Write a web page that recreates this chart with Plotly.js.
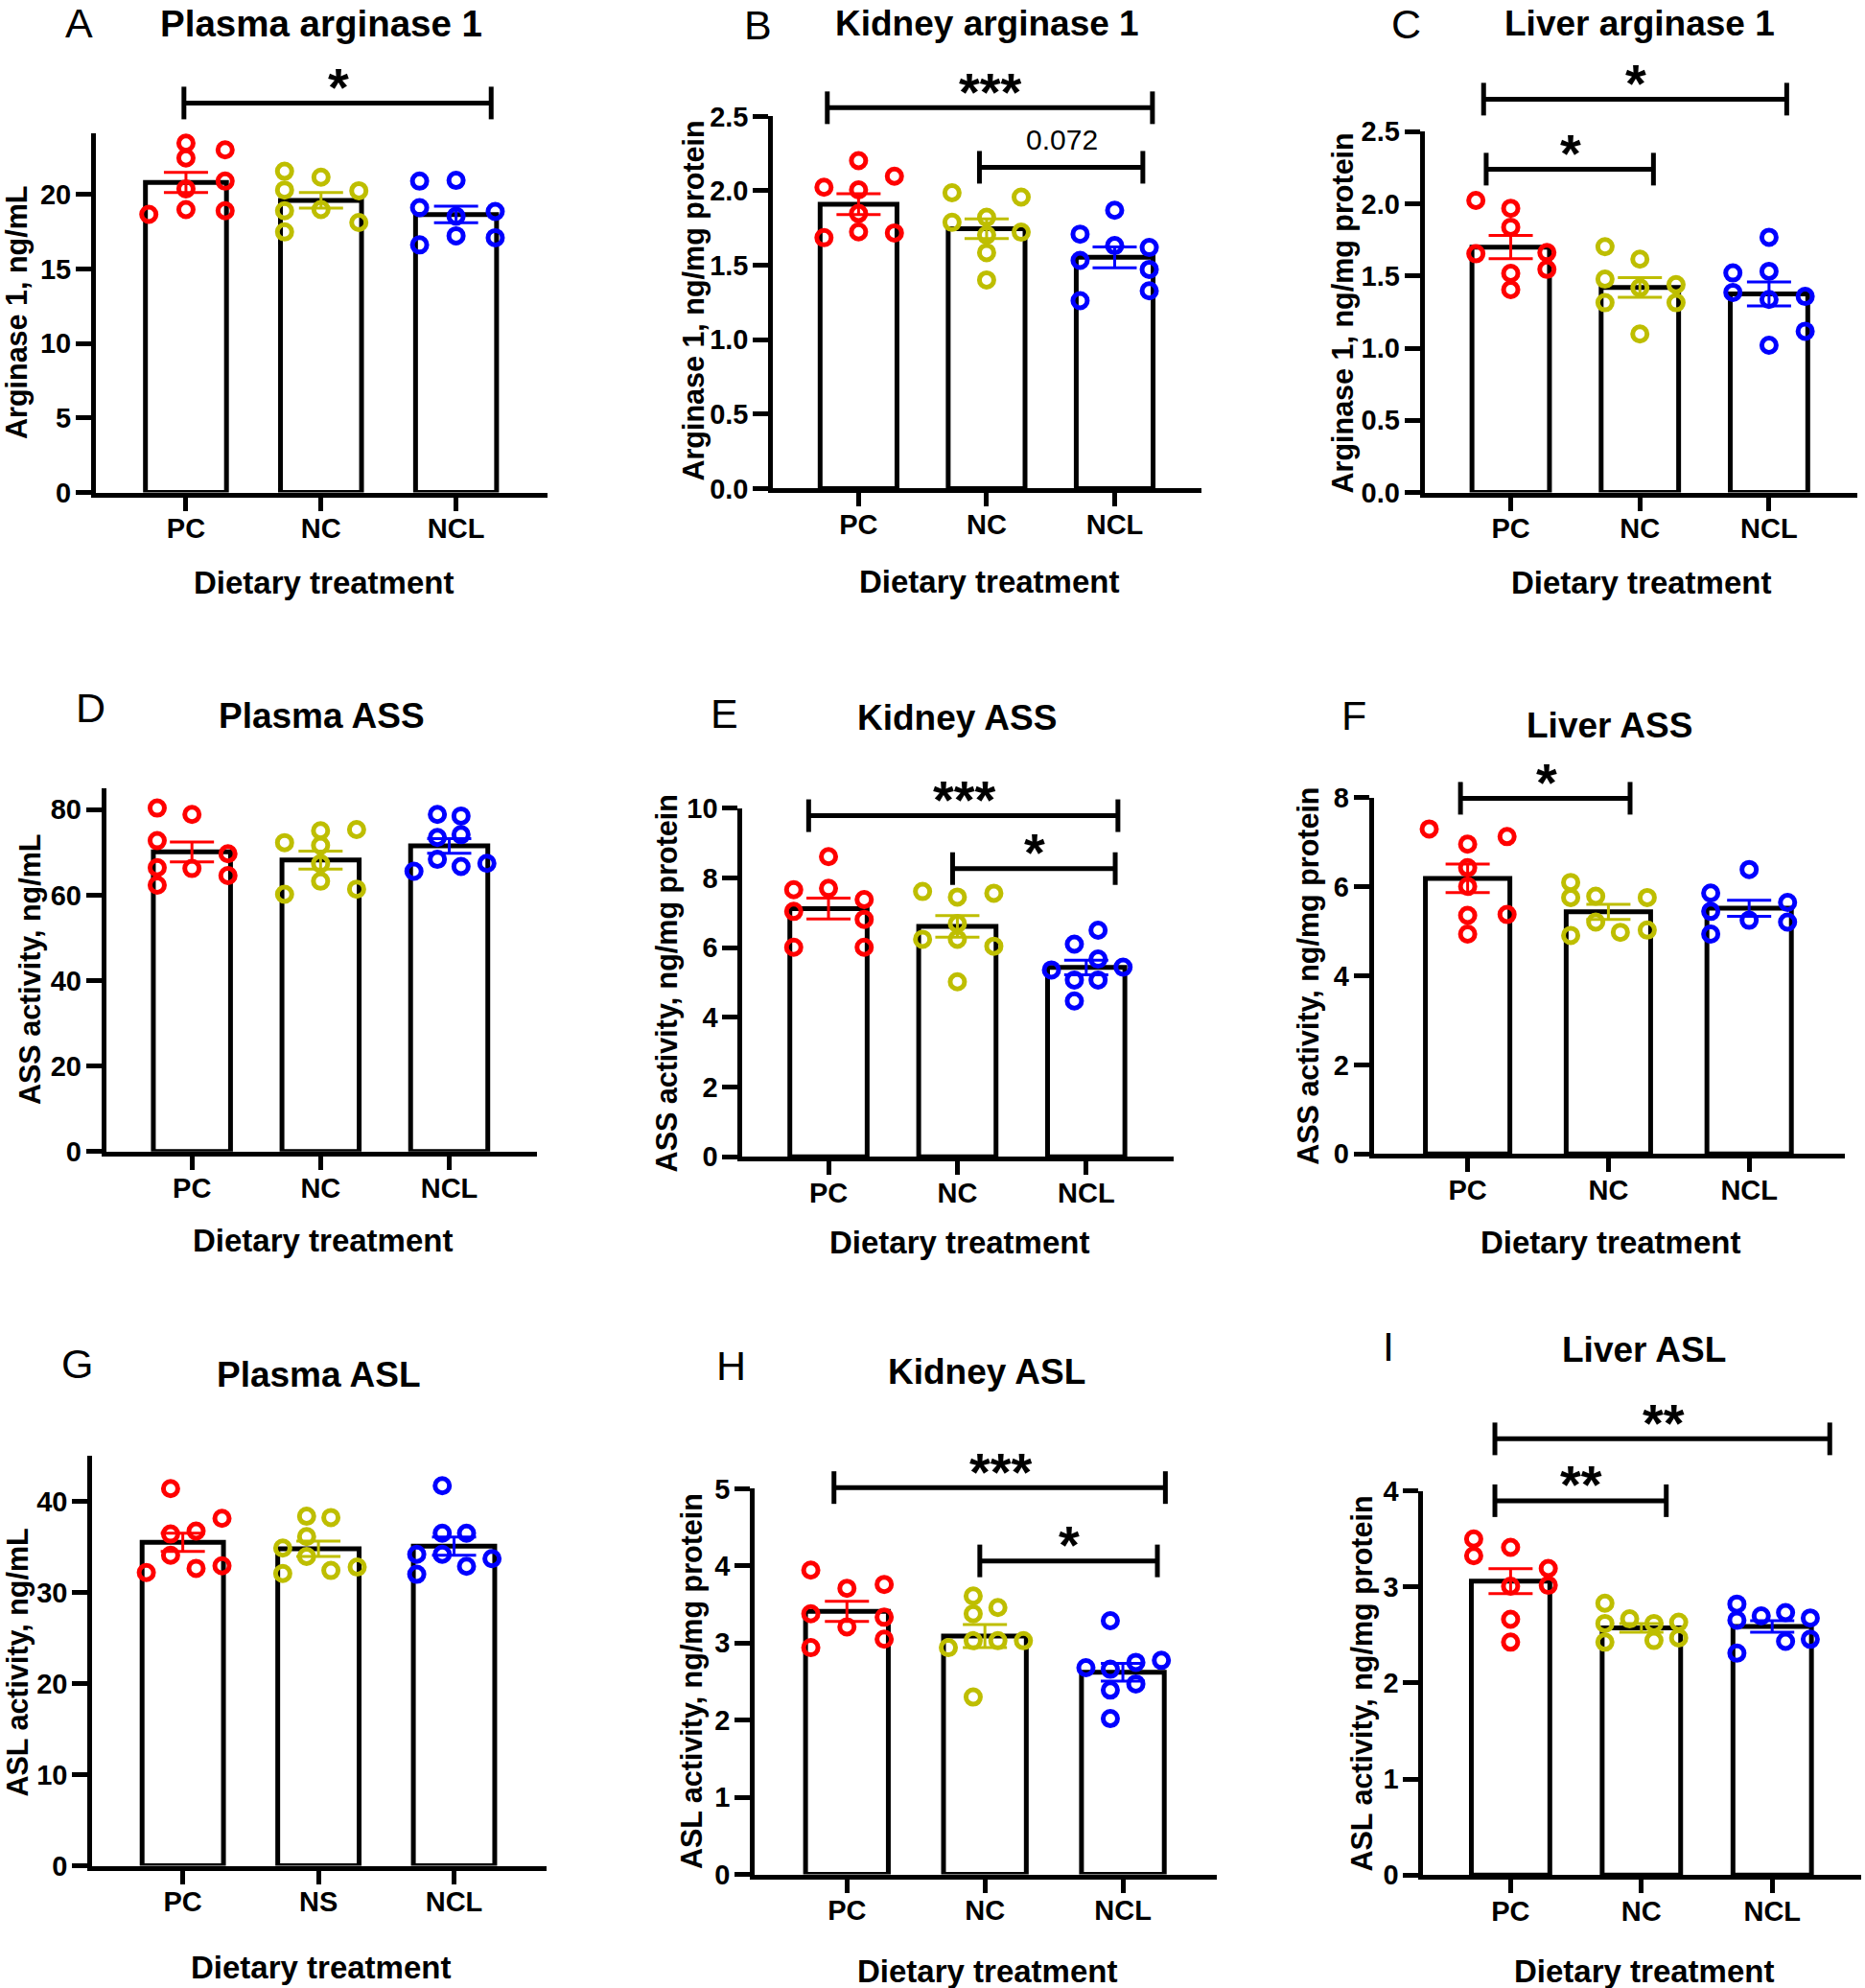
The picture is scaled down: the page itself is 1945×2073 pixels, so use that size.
<!DOCTYPE html>
<html><head><meta charset="utf-8">
<script src="https://cdn.plot.ly/plotly-3.0.1.min.js"></script>
<style>body{margin:0;background:#fff}#chart{width:1945px;height:2073px}</style>
</head><body><div id="chart"></div>
<script>
// ================= DATA =================
const catsMain = ['PC', 'NC', 'NCL'];
const catsG = ['PC', 'NS', 'NCL'];

// A  Plasma arginase 1 (ng/mL)
const A_PC = [23.44, 22.44, 20.37, 18.98, 22.99, 20.89, 18.90, 18.66];
const A_PC_dx = [0, 0, 0, 0, 0.29, 0.29, 0.29, -0.275];
const A_NC = [21.55, 20.29, 18.90, 17.48, 21.15, 18.98, 20.24, 18.11];
const A_NC_dx = [-0.27, -0.27, -0.27, -0.27, 0, 0, 0.28, 0.28];
const A_NCL = [20.89, 19.11, 16.61, 20.94, 18.53, 17.22, 18.85, 17.09];
const A_NCL_dx = [-0.27, -0.27, -0.27, 0, 0, 0, 0.29, 0.29];
const A_mean = [20.8, 19.6, 18.65];
const A_sem = [0.68, 0.52, 0.56];

// B  Kidney arginase 1 (ng/mg protein)
const B_PC = [2.024, 1.685, 2.203, 2.006, 1.848, 1.724, 2.098, 1.717];
const B_PC_dx = [-0.27, -0.27, 0, 0, 0, 0, 0.28, 0.28];
const B_NC = [1.987, 1.788, 1.822, 1.703, 1.585, 1.401, 1.958, 1.722];
const B_NC_dx = [-0.27, -0.27, 0, 0, 0, 0, 0.27, 0.27];
const B_NCL = [1.709, 1.533, 1.262, 1.869, 1.632, 1.619, 1.472, 1.328];
const B_NCL_dx = [-0.27, -0.27, -0.27, 0, 0, 0.27, 0.27, 0.27];
const B_mean = [1.91, 1.745, 1.553];
const B_sem = [0.07, 0.066, 0.07];

// C  Liver arginase 1 (ng/mg protein)
const C_PC = [2.023, 1.654, 1.969, 1.838, 1.518, 1.405, 1.662, 1.546];
const C_PC_dx = [-0.27, -0.27, 0, 0, 0, 0, 0.28, 0.28];
const C_NC = [1.703, 1.478, 1.315, 1.616, 1.418, 1.098, 1.44, 1.315];
const C_NC_dx = [-0.27, -0.27, -0.27, 0, 0, 0, 0.28, 0.28];
const C_NCL = [1.521, 1.386, 1.768, 1.532, 1.337, 1.02, 1.358, 1.117];
const C_NCL_dx = [-0.28, -0.28, 0, 0, 0, 0, 0.28, 0.28];
const C_mean = [1.70, 1.42, 1.375];
const C_sem = [0.08, 0.068, 0.083];

// D  Plasma ASS (ng/mL)
const D_PC = [80.37, 72.74, 66.42, 62.33, 78.88, 66.23, 69.67, 64.56];
const D_PC_dx = [-0.27, -0.27, -0.27, -0.27, 0, 0, 0.28, 0.28];
const D_NC = [72.28, 60.19, 75.07, 71.63, 67.35, 63.26, 75.35, 61.4];
const D_NC_dx = [-0.28, -0.28, 0, 0, 0, 0, 0.28, 0.28];
const D_NCL = [65.58, 78.88, 73.49, 68.37, 78.51, 74.14, 66.7, 67.44];
const D_NCL_dx = [-0.274, -0.092, -0.092, -0.092, 0.092, 0.092, 0.092, 0.293];
const D_mean = [70.1, 68.2, 71.5];
const D_sem = [2.35, 2.1, 1.7];

// E  Kidney ASS (ng/mg protein)
const E_PC = [7.66, 7.04, 6.01, 8.61, 7.70, 7.38, 6.81, 6.01];
const E_PC_dx = [-0.27, -0.27, -0.27, 0, 0, 0.277, 0.277, 0.277];
const E_NC = [7.61, 6.24, 7.45, 6.69, 6.24, 5.02, 7.56, 6.04];
const E_NC_dx = [-0.27, -0.27, 0, 0, 0, 0, 0.283, 0.283];
const E_NCL = [5.36, 6.10, 5.07, 4.47, 6.50, 5.67, 5.07, 5.44];
const E_NCL_dx = [-0.27, -0.092, -0.092, -0.092, 0.092, 0.092, 0.092, 0.286];
const E_mean = [7.12, 6.61, 5.43];
const E_sem = [0.3, 0.31, 0.21];

// F  Liver ASS (ng/mg protein)
const F_PC = [7.30, 6.96, 6.43, 6.01, 5.36, 4.94, 7.13, 5.38];
const F_PC_dx = [-0.273, 0, 0, 0, 0, 0, 0.28, 0.28];
const F_NC = [6.10, 5.76, 4.91, 5.79, 5.21, 4.98, 5.76, 5.03];
const F_NC_dx = [-0.268, -0.268, -0.268, -0.09, -0.09, 0.085, 0.276, 0.276];
const F_NCL = [5.86, 5.45, 4.94, 6.39, 5.25, 5.65, 5.21];
const F_NCL_dx = [-0.273, -0.273, -0.273, 0, 0, 0.273, 0.273];
const F_mean = [6.19, 5.44, 5.52];
const F_sem = [0.32, 0.17, 0.18];

// G  Plasma ASL (ng/mL)
const G_PC = [32.19, 41.4, 36.42, 34.09, 36.74, 32.65, 38.14, 32.93];
const G_PC_dx = [-0.269, -0.09, -0.09, -0.09, 0.098, 0.098, 0.289, 0.289];
const G_NS = [34.88, 32.09, 38.37, 36.14, 33.95, 38.23, 32.42, 32.79];
const G_NS_dx = [-0.263, -0.263, -0.087, -0.087, -0.087, 0.092, 0.092, 0.286];
const G_NCL = [34.19, 32.0, 41.72, 36.51, 34.19, 36.51, 32.88, 33.72];
const G_NCL_dx = [-0.275, -0.275, -0.087, -0.087, -0.087, 0.092, 0.092, 0.28];
const G_mean = [35.5, 34.8, 35.1];
const G_sem = [1.0, 0.85, 1.0];

// H  Kidney ASL (ng/mg protein)
const H_PC = [3.945, 3.38, 2.94, 3.71, 3.21, 3.76, 3.335, 3.05];
const H_PC_dx = [-0.262, -0.262, -0.262, 0, 0, 0.27, 0.27, 0.27];
const H_NC = [2.94, 3.61, 3.38, 3.03, 2.30, 3.46, 3.03, 3.03];
const H_NC_dx = [-0.265, -0.085, -0.085, -0.085, -0.085, 0.094, 0.094, 0.279];
const H_NCL = [2.68, 3.29, 2.66, 2.39, 2.02, 2.75, 2.47, 2.775];
const H_NCL_dx = [-0.268, -0.091, -0.091, -0.091, -0.091, 0.094, 0.094, 0.279];
const H_mean = [3.41, 3.09, 2.62];
const H_sem = [0.13, 0.15, 0.115];

// I  Liver ASL (ng/mg protein)
const I_PC = [3.50, 3.325, 3.413, 3.008, 2.664, 2.426, 3.193, 3.017];
const I_PC_dx = [-0.282, -0.282, 0, 0, 0, 0, 0.288, 0.288];
const I_NC = [2.831, 2.62, 2.426, 2.668, 2.62, 2.443, 2.633, 2.47];
const I_NC_dx = [-0.279, -0.279, -0.279, -0.09, 0.096, 0.096, 0.285, 0.285];
const I_NCL = [2.822, 2.655, 2.311, 2.699, 2.734, 2.434, 2.677, 2.456];
const I_NCL_dx = [-0.27, -0.27, -0.27, -0.084, 0.102, 0.102, 0.291, 0.291];
const I_mean = [3.06, 2.575, 2.59];
const I_sem = [0.13, 0.045, 0.06];

// ================= LAYOUT / STYLE =================
const W = 1945, H = 2073;
const XR = [-0.667, 2.68];
const FONT = 'Liberation Sans, Arial, Helvetica, sans-serif';
const COLORS = ['#ff0000', '#bebe00', '#0000ff'];

const panels = [
  {n:1, letter:'A', title:'Plasma arginase 1', tSize:38.5, ytitle:'Arginase 1, ng/mL', cats:catsMain,
   vals:[A_PC, A_NC, A_NCL], dx:[A_PC_dx, A_NC_dx, A_NCL_dx], mean:A_mean, sem:A_sem,
   ymax:24.1, dtick:5, fmt:'', xpx:[100, 571.4], ypx:[513.5, 138.8],
   tPos:[334.7, 25], lPos:[82.5, 24], dPos:[337, 607], yPos:[17, 326],
   br:[{a:-0.015, b:2.26, y:26.13, t:'*'}]},
  {n:2, letter:'B', title:'Kidney arginase 1', tSize:37, ytitle:'Arginase 1, ng/mg protein', cats:catsMain,
   vals:[B_PC, B_NC, B_NCL], dx:[B_PC_dx, B_NC_dx, B_NCL_dx], mean:B_mean, sem:B_sem,
   ymax:2.5, dtick:0.5, fmt:'.1f', xpx:[806.3, 1253.3], ypx:[509.4, 121.2],
   tPos:[1029.6, 25], lPos:[790, 26], dPos:[1031.6, 606], yPos:[722.6, 314],
   br:[{a:-0.244, b:2.295, y:2.558, t:'***'}, {a:0.944, b:2.22, y:2.158, t:'0.072'}]},
  {n:3, letter:'C', title:'Liver arginase 1', tSize:37, ytitle:'Arginase 1, ng/mg protein', cats:catsMain,
   vals:[C_PC, C_NC, C_NCL], dx:[C_PC_dx, C_NC_dx, C_NCL_dx], mean:C_mean, sem:C_sem,
   ymax:2.5, dtick:0.5, fmt:'.1f', xpx:[1485.7, 1936.5], ypx:[513.5, 137.1],
   tPos:[1710, 24.5], lPos:[1466, 25], dPos:[1711, 607], yPos:[1400, 326.5],
   br:[{a:-0.21, b:2.137, y:2.725, t:'*'}, {a:-0.19, b:1.105, y:2.24, t:'*'}]},
  {n:4, letter:'D', title:'Plasma ASS', tSize:37, ytitle:'ASS activity, ng/mL', cats:catsMain,
   vals:[D_PC, D_NC, D_NCL], dx:[D_PC_dx, D_NC_dx, D_NCL_dx], mean:D_mean, sem:D_sem,
   ymax:85, dtick:20, fmt:'', xpx:[110.7, 559.7], ypx:[1200.8, 821.8],
   tPos:[335.8, 746], lPos:[94, 738], dPos:[336.6, 1293], yPos:[31, 1011], br:[]},
  {n:5, letter:'E', title:'Kidney ASS', tSize:37, ytitle:'ASS activity, ng/mg protein', cats:catsMain,
   vals:[E_PC, E_NC, E_NCL], dx:[E_PC_dx, E_NC_dx, E_NCL_dx], mean:E_mean, sem:E_sem,
   ymax:10, dtick:2, fmt:'', xpx:[774.4, 1224.2], ypx:[1206.2, 842.6],
   tPos:[998.3, 748], lPos:[755.6, 744], dPos:[1000.3, 1295.3], yPos:[695.6, 1025.8],
   br:[{a:-0.154, b:2.246, y:9.785, t:'***'}, {a:0.963, b:2.225, y:8.267, t:'*'}]},
  {n:6, letter:'F', title:'Liver ASS', tSize:37, ytitle:'ASS activity, ng/mg protein', cats:catsMain,
   vals:[F_PC, F_NC, F_NCL], dx:[F_PC_dx, F_NC_dx, F_NCL_dx], mean:F_mean, sem:F_sem,
   ymax:8, dtick:2, fmt:'', xpx:[1432.7, 1924], ypx:[1203.3, 831.8],
   tPos:[1678.1, 756.3], lPos:[1411.9, 746], dPos:[1679.4, 1295.3], yPos:[1364.3, 1017.5],
   br:[{a:-0.051, b:1.154, y:7.99, t:'*'}]},
  {n:7, letter:'G', title:'Plasma ASL', tSize:37, ytitle:'ASL activity, ng/mL', cats:catsG,
   vals:[G_PC, G_NS, G_NCL], dx:[G_PC_dx, G_NS_dx, G_NCL_dx], mean:G_mean, sem:G_sem,
   ymax:45, dtick:10, fmt:'', xpx:[96.3, 569.7], ypx:[1945.6, 1517.9],
   tPos:[332, 1433], lPos:[80.7, 1422], dPos:[334, 2051.7], yPos:[18, 1733.5], br:[]},
  {n:8, letter:'H', title:'Kidney ASL', tSize:37, ytitle:'ASL activity, ng/mg protein', cats:catsMain,
   vals:[H_PC, H_NC, H_NCL], dx:[H_PC_dx, H_NC_dx, H_NCL_dx], mean:H_mean, sem:H_sem,
   ymax:5, dtick:1, fmt:'', xpx:[787.3, 1268.9], ypx:[1954.5, 1552.3],
   tPos:[1029.1, 1430.8], lPos:[762.7, 1424.2], dPos:[1029.1, 2055.2], yPos:[721.7, 1753.4],
   br:[{a:-0.094, b:2.308, y:5.016, t:'***'}, {a:0.963, b:2.25, y:4.065, t:'*'}]},
  {n:9, letter:'I', title:'Liver ASL', tSize:37, ytitle:'ASL activity, ng/mg protein', cats:catsMain,
   vals:[I_PC, I_NC, I_NCL], dx:[I_PC_dx, I_NC_dx, I_NCL_dx], mean:I_mean, sem:I_sem,
   ymax:4, dtick:1, fmt:'', xpx:[1484.4, 1941], ypx:[1955.3, 1554.5],
   tPos:[1714, 1407.4], lPos:[1448.4, 1404.3], dPos:[1714, 2055.2], yPos:[1420.9, 1755.6],
   br:[{a:-0.12, b:2.44, y:4.542, t:'**'}, {a:-0.12, b:1.19, y:3.898, t:'**'}]}
];

const traces = [], shapes = [], annotations = [];
const layout = {
  width: W, height: H, margin: {l:0, r:0, t:0, b:0},
  paper_bgcolor: '#ffffff', plot_bgcolor: 'rgba(0,0,0,0)',
  showlegend: false, font: {family: FONT, color: '#000'}
};

function ann(px, py, text, size, weight, extra) {
  annotations.push(Object.assign({
    xref: 'paper', yref: 'paper', x: px / W, y: 1 - py / H, text: text,
    showarrow: false, xanchor: 'center', yanchor: 'middle',
    font: {family: FONT, size: size, color: '#000', weight: weight}
  }, extra || {}));
}

panels.forEach(p => {
  const xa = p.n === 1 ? 'x' : 'x' + p.n;
  const ya = p.n === 1 ? 'y' : 'y' + p.n;
  const xKey = p.n === 1 ? 'xaxis' : 'xaxis' + p.n;
  const yKey = p.n === 1 ? 'yaxis' : 'yaxis' + p.n;
  const ymaxR = p.ymax * 1.0004;
  const tickvals = [];
  for (let i = 0; i * p.dtick <= p.ymax + 1e-9; i++) tickvals.push(+(i * p.dtick).toFixed(6));

  layout[xKey] = {
    domain: [p.xpx[0] / W, p.xpx[1] / W], range: XR, anchor: ya,
    showline: true, linewidth: 5, linecolor: '#000',
    ticks: 'outside', ticklen: 14, tickwidth: 5, tickcolor: '#000',
    tickvals: [0, 1, 2], ticktext: p.cats, ticklabelstandoff: -6,
    tickfont: {family: FONT, size: 29, color: '#000', weight: 'bold'},
    showgrid: false, zeroline: false, fixedrange: true
  };
  layout[yKey] = {
    domain: [1 - p.ypx[0] / H, 1 - p.ypx[1] / H], range: [0, ymaxR], anchor: xa,
    showline: true, linewidth: 5, linecolor: '#000',
    ticks: 'outside', ticklen: 16, tickwidth: 5, tickcolor: '#000',
    tickvals: tickvals, tickformat: p.fmt, ticklabelstandoff: -1,
    tickfont: {family: FONT, size: 29, color: '#000', weight: 'bold'},
    showgrid: false, zeroline: false, fixedrange: true
  };

  // bars (mean)
  traces.push({
    type: 'bar', x: [0, 1, 2], y: p.mean, width: 0.6, xaxis: xa, yaxis: ya,
    marker: {color: '#ffffff', line: {color: '#000000', width: 5}}, hoverinfo: 'skip'
  });

  for (let g = 0; g < 3; g++) {
    // individual animals
    traces.push({
      type: 'scatter', mode: 'markers', xaxis: xa, yaxis: ya, cliponaxis: false,
      x: p.dx[g].map(d => g + d), y: p.vals[g],
      marker: {symbol: 'circle-open', size: 15, color: COLORS[g], line: {width: 5, color: COLORS[g]}},
      hoverinfo: 'skip'
    });
    // SEM error bars
    traces.push({
      type: 'scatter', mode: 'markers', xaxis: xa, yaxis: ya, cliponaxis: false,
      x: [g], y: [p.mean[g]],
      marker: {size: 1, color: 'rgba(0,0,0,0)'},
      error_y: {type: 'data', array: [p.sem[g]], visible: true, color: COLORS[g], thickness: 3, width: 23},
      hoverinfo: 'skip'
    });
  }

  // significance brackets (data -> pixel via the panel's own scale)
  const bx = v => p.xpx[0] + (v - XR[0]) / (XR[1] - XR[0]) * (p.xpx[1] - p.xpx[0]);
  const by = v => p.ypx[0] - v / ymaxR * (p.ypx[0] - p.ypx[1]);
  p.br.forEach(b => {
    const x1 = bx(b.a), x2 = bx(b.b), yy = by(b.y);
    const L = {color: '#000', width: 5};
    shapes.push({type:'line', xref:'paper', yref:'paper', x0:x1/W, x1:x2/W, y0:1-yy/H, y1:1-yy/H, line:L});
    [x1, x2].forEach(xx => shapes.push({type:'line', xref:'paper', yref:'paper', x0:xx/W, x1:xx/W,
      y0:1-(yy-17)/H, y1:1-(yy+17)/H, line:L}));
    const isStar = b.t.indexOf('*') >= 0;
    ann((x1 + x2) / 2 + 1, yy, b.t, isStar ? 56 : 30, isStar ? 'bold' : 'normal', {yshift: isStar ? 17 : 29});
  });

  ann(p.tPos[0], p.tPos[1], p.title, p.tSize, 'bold');
  ann(p.lPos[0], p.lPos[1], p.letter, 43, 'normal');
  ann(p.dPos[0], p.dPos[1], 'Dietary treatment', 33, 'bold');
  ann(p.yPos[0], p.yPos[1], p.ytitle, 30.5, 'bold', {textangle: -90});
});

layout.shapes = shapes;
layout.annotations = annotations;

Plotly.newPlot('chart', traces, layout, {staticPlot: true, displayModeBar: false});
</script>
</body></html>
